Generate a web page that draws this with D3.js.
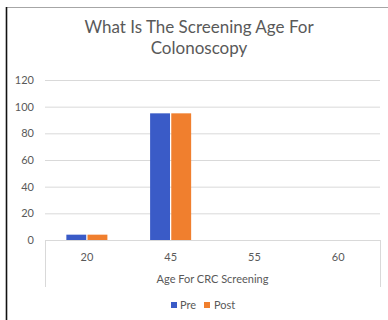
<!DOCTYPE html>
<html>
<head>
<meta charset="utf-8">
<script src="https://cdn.jsdelivr.net/npm/d3@7"></script>
<style>
  html, body { margin: 0; padding: 0; background: #fff; }
  svg { display: block; }
  text { font-family: Lato, "Open Sans", sans-serif; fill: #595959; }
</style>
</head>
<body>
<svg id="chart" width="388" height="320"></svg>
<script>
// Chart data
const categories = ["20", "45", "55", "60"];
const seriesNames = ["Pre", "Post"];
const preValues = [4, 95, 0, 0];
const postValues = [4, 95, 0, 0];
const yTicks = [0, 20, 40, 60, 80, 100, 120];
const titleLines = ["What Is The Screening Age For", "Colonoscopy"];
const xAxisTitle = "Age For CRC Screening";

const colors = { Pre: "#3a5bc7", Post: "#f07f2e" };

const svg = d3.select("#chart");
const W = 388, H = 320;
const plot = { left: 45, right: 380, top: 80, bottom: 240 };

// Chart frame (top and left edges)
svg.append("line").attr("x1", 7).attr("x2", W).attr("y1", 7.5).attr("y2", 7.5)
  .attr("stroke", "#a6a6a6").attr("stroke-width", 1.2);
svg.append("line").attr("x1", 6.5).attr("x2", 6.5).attr("y1", 7).attr("y2", H)
  .attr("stroke", "#111").attr("stroke-width", 1.6);

// Title
svg.append("g").selectAll("text").data(titleLines).join("text")
  .attr("x", 199).attr("y", (d, i) => 33 + i * 21)
  .attr("text-anchor", "middle")
  .style("font-size", "17px")
  .text(d => d);

// Scales
const y = d3.scaleLinear().domain([0, 120]).range([plot.bottom, plot.top]);
const x = d3.scaleBand().domain(categories).range([plot.left, plot.right]).padding(0);
const bw = x.bandwidth();
const xs = d3.scaleBand().domain(seriesNames)
  .range([bw * 0.255, bw * 0.745]).paddingInner(0.06);

// Gridlines
svg.append("g").selectAll("line").data(yTicks.filter(t => t > 0)).join("line")
  .attr("x1", plot.left).attr("x2", plot.right)
  .attr("y1", d => y(d) + 0.5).attr("y2", d => y(d) + 0.5)
  .attr("stroke", "#d9d9d9").attr("stroke-width", 1);

// Y axis labels
const yAxis = d3.axisLeft(y).tickValues(yTicks).tickSize(0).tickPadding(0);
const gy = svg.append("g").attr("transform", `translate(${34},0)`).call(yAxis);
gy.select(".domain").remove();
gy.selectAll("text").style("font-size", "11px").style("fill", "#595959")
  .style("font-family", "Lato, 'Open Sans', sans-serif");

// Bars
const rows = categories.map((c, i) => ({ cat: c, Pre: preValues[i], Post: postValues[i] }));
const groups = svg.append("g").selectAll("g").data(rows).join("g")
  .attr("transform", d => `translate(${x(d.cat)},0)`);
groups.selectAll("rect")
  .data(d => seriesNames.map(s => ({ s, v: d[s] })))
  .join("rect")
  .attr("x", d => xs(d.s))
  .attr("width", xs.bandwidth())
  .attr("y", d => y(d.v))
  .attr("height", d => y(0) - y(d.v))
  .attr("fill", d => colors[d.s]);

// X axis baseline and category edges
svg.append("line").attr("x1", plot.left).attr("x2", plot.right)
  .attr("y1", plot.bottom + 0.5).attr("y2", plot.bottom + 0.5)
  .attr("stroke", "#d9d9d9").attr("stroke-width", 1);
svg.append("g").selectAll("line").data([plot.left, plot.right]).join("line")
  .attr("x1", d => d + 0.5).attr("x2", d => d + 0.5)
  .attr("y1", plot.bottom).attr("y2", 287)
  .attr("stroke", "#d9d9d9").attr("stroke-width", 1);

// Category labels
const xAxis = d3.axisBottom(x).tickSize(0).tickPadding(0);
const gx = svg.append("g").attr("transform", `translate(0,${253})`).call(xAxis);
gx.select(".domain").remove();
gx.selectAll("text").style("font-size", "11px").style("fill", "#595959")
  .style("font-family", "Lato, 'Open Sans', sans-serif");

// Axis title
svg.append("text").attr("x", (plot.left + plot.right) / 2).attr("y", 283)
  .attr("text-anchor", "middle").style("font-size", "11px").text(xAxisTitle);

// Legend
const legendItems = [
  { name: "Pre", sx: 171, tx: 180 },
  { name: "Post", sx: 204, tx: 214 }
];
const lg = svg.append("g").selectAll("g").data(legendItems).join("g");
lg.append("rect").attr("x", d => d.sx).attr("y", 302).attr("width", 6).attr("height", 6)
  .attr("fill", d => colors[d.name]);
lg.append("text").attr("x", d => d.tx).attr("y", 309)
  .style("font-size", "11px").text(d => d.name);
</script>
</body>
</html>
